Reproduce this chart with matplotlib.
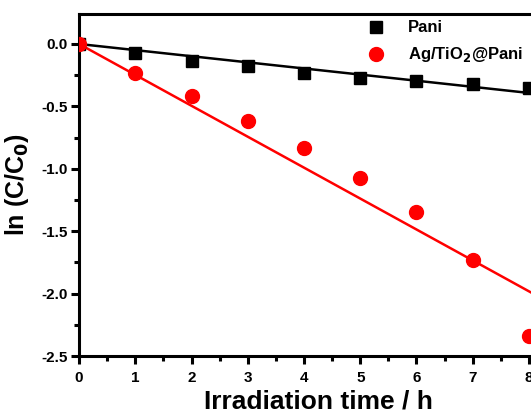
import numpy as np
import matplotlib
matplotlib.use("Agg")
import matplotlib.pyplot as plt
from matplotlib.ticker import MultipleLocator

plt.rcParams["font.family"] = ["Liberation Sans", "DejaVu Sans"]
plt.rcParams["font.weight"] = "bold"
plt.rcParams["mathtext.default"] = "bf"

# irradiation time (h)
time_h = [0, 1, 2, 3, 4, 5, 6, 7, 8]
# ln(C/C0) values
pani = [0.0, -0.07, -0.14, -0.18, -0.23, -0.27, -0.30, -0.32, -0.35]
ag_tio2_pani = [0.0, -0.23, -0.42, -0.62, -0.83, -1.07, -1.35, -1.73, -2.34]

fig = plt.figure(figsize=(5.31, 4.13), dpi=100)
# axes run off the right edge like the cropped original
ax = fig.add_axes([0.149, 0.138, 0.90, 0.828])

x = np.array(time_h, dtype=float)
x_fit = np.array([0, 8.5])
for vals, color, marker, ms, label in [
    (pani, "black", "s", 8.5, "Pani"),
    (ag_tio2_pani, "red", "o", 10, "Ag/TiO$_2$@Pani"),
]:
    y = np.array(vals)
    k = np.sum(x * y) / np.sum(x * x)  # linear fit through origin
    ax.plot(x_fit, k * x_fit, color=color, lw=1.8, zorder=2)
    ax.plot(x, y, ls="none", marker=marker, ms=ms, color=color,
            label=label, zorder=3)

ax.set_xlim(0, 8.5)
ax.set_ylim(-2.5, 0.24)
ax.xaxis.set_major_locator(MultipleLocator(1))
ax.xaxis.set_minor_locator(MultipleLocator(0.5))
ax.yaxis.set_major_locator(MultipleLocator(0.5))
ax.yaxis.set_minor_locator(MultipleLocator(0.25))
ax.yaxis.set_major_formatter(plt.FuncFormatter(lambda v, p: f"{v:.1f}"))

for sp in ax.spines.values():
    sp.set_linewidth(2.2)
ax.tick_params(which="major", direction="out", length=6, width=2.2,
               labelsize=11)
ax.tick_params(axis="x", which="major", pad=5)
ax.tick_params(axis="y", which="major", pad=2)
ax.tick_params(which="minor", direction="out", length=3.5, width=2.2)

ax.set_xlabel("Irradiation time / h", fontsize=19, fontweight="bold", labelpad=3)
ax.set_ylabel("ln (C/C$_0$)", fontsize=18, fontweight="bold", labelpad=8)

ax.legend(loc="upper left", bbox_to_anchor=(0.555, 1.025), frameon=False,
          handletextpad=0.9, labelspacing=0.6,
          prop={"weight": "bold", "size": 12})

fig.savefig("out.png", dpi=100)
